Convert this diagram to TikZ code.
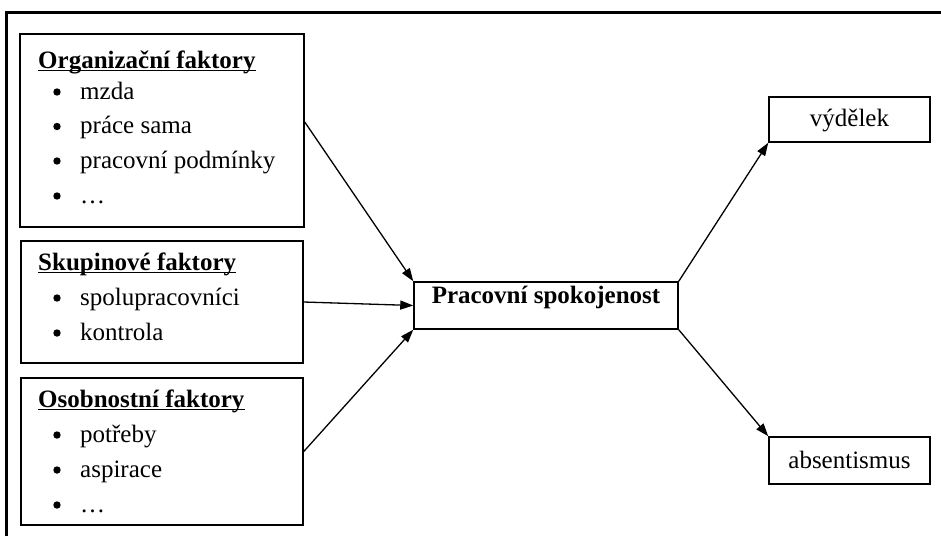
\documentclass[tikz,border=0pt]{standalone}
\usepackage{fontspec}
\setmainfont{Liberation Serif}
\usetikzlibrary{arrows.meta,calc}
\begin{document}
\begin{tikzpicture}[x=1pt,y=-1pt,
  frame/.style={draw,line width=1.5pt,inner sep=0pt},
  txt/.style={inner sep=0pt,anchor=base west,font=\fontsize{25}{29}\selectfont},
  ttl/.style={txt,font=\fontsize{25}{29}\selectfont\bfseries},
  uline/.style={line width=1.6pt},
  bul/.style={fill=black},
  arr/.style={line width=1.3pt,-{Triangle[length=13pt,width=9pt]}},
]
\useasboundingbox (0,0) rectangle (941,536);
\fill[white] (0,0) rectangle (941,536);
% outer frame
\draw[line width=2.5pt] (6.5,536) -- (6.5,12.5) -- (941,12.5);

% boxes
\node[frame,minimum width=284pt,minimum height=193pt] (b1) at (162,130.5) {};
\node[frame,minimum width=282pt,minimum height=122pt] (b2) at (162,302) {};
\node[frame,minimum width=282pt,minimum height=147pt] (b3) at (162,451.5) {};
\node[frame,minimum width=264pt,minimum height=47pt] (c) at (546,305.5) {};
\node[frame,minimum width=161pt,minimum height=45pt] (v) at (849.5,119.5) {};
\node[frame,minimum width=161pt,minimum height=47pt] (a) at (849.5,460.5) {};

% box 1
\node[ttl] (t1) at (38,68) {Organizační faktory};
\draw[uline] ([yshift=-2.5pt]t1.base west) -- ([yshift=-2.5pt]t1.base east);
\node[txt] (i11) at (80,99) {mzda};
\node[txt] (i12) at (80,133.5) {práce sama};
\node[txt] (i13) at (80,168) {pracovní podmínky};
\node[txt] (i14) at (80,203) {…};
\foreach \yy in {99,133.5,168,203} \fill[bul] (57,\yy-7) circle (3.7pt);

% box 2
\node[ttl] (t2) at (38,270) {Skupinové faktory};
\draw[uline] ([yshift=-2.5pt]t2.base west) -- ([yshift=-2.5pt]t2.base east);
\node[txt] (i21) at (80,305) {spolupracovníci};
\node[txt] (i22) at (80,340) {kontrola};
\foreach \yy in {305,340} \fill[bul] (57,\yy-7) circle (3.7pt);

% box 3
\node[ttl] (t3) at (38,407) {Osobnostní faktory};
\draw[uline] ([yshift=-2.5pt]t3.base west) -- ([yshift=-2.5pt]t3.base east);
\node[txt] (i31) at (80,442) {potřeby};
\node[txt] (i32) at (80,477) {aspirace};
\node[txt] (i33) at (80,512) {…};
\foreach \yy in {442,477,512} \fill[bul] (57,\yy-7) circle (3.7pt);

% centre and outcomes
\node[ttl,anchor=base] (ct) at (546,303) {Pracovní spokojenost};
\node[txt,anchor=base] (vt) at (849.5,126) {výdělek};
\node[txt,anchor=base] (at) at (849.5,468) {absentismus};

% arrows
\draw[arr] ([yshift=8.5pt]b1.east) -- (c.north west);
\draw[arr] (b2.east) -- (c.west);
\draw[arr] (b3.east) -- (c.south west);
\draw[arr] (c.north east) -- (v.south west);
\draw[arr] (c.south east) -- (a.north west);
\end{tikzpicture}
\end{document}
